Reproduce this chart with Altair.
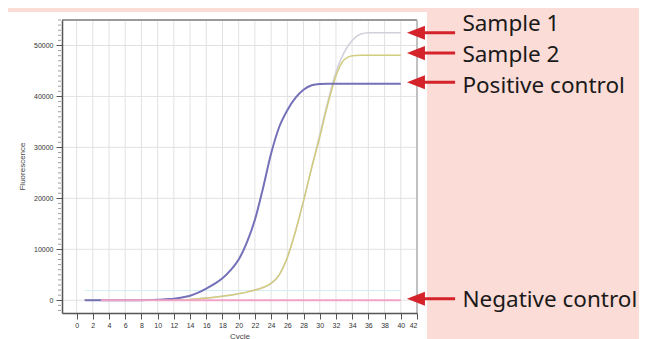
import altair as alt
import pandas as pd

# ---- data ----
cycles = list(range(1, 41))

sample1 = [0, 0, 0, 0, 0, 0, 0, 0, 0, 0,
           0, 0, 0, 150, 300, 450, 600, 800, 1000, 1300,
           1600, 2000, 2500, 3300, 5000, 8400, 13500, 19500, 26000, 32500,
           39000, 44800, 48600, 51000, 52200, 52500, 52500, 52500, 52500, 52500]

sample2 = [0, 0, 0, 0, 0, 0, 0, 0, 0, 0,
           0, 0, 0, 150, 300, 450, 600, 800, 1000, 1300,
           1600, 2000, 2500, 3300, 5000, 8400, 13500, 19500, 26000, 32000,
           38500, 44000, 47200, 48000, 48100, 48100, 48100, 48100, 48100, 48100]

positive = [0, 0, 0, 0, 0, 0, 0, 0, 50, 100,
            200, 300, 550, 900, 1500, 2300, 3200, 4300, 5900, 8000,
            11300, 15800, 22000, 28800, 34000, 37300, 39700, 41300, 42200, 42450,
            42500, 42500, 42500, 42500, 42500, 42500, 42500, 42500, 42500, 42500]

negative = [None, None, 0, 0, 0, 0, 0, 0, 0, 0,
            0, 0, 0, 0, 0, 0, 0, 0, 0, 0,
            0, 0, 0, 0, 0, 0, 0, 0, 0, 0,
            0, 0, 0, 0, 0, 0, 0, 0, 0, 0]

threshold_cycles = [1, 40]
threshold_values = [1900, 1900]

x_ticks = [0, 2, 4, 6, 8, 10, 12, 14, 16, 18, 20, 22, 24, 26, 28, 30, 32, 34, 36, 38, 40, 42]
y_ticks = [0, 10000, 20000, 30000, 40000, 50000]
y_minor = [v for v in range(-2000, 55001, 1000) if v % 10000 != 0]

labels = ["Sample 1", "Sample 2", "Positive control", "Negative control"]
label_y = [54300, 48130, 41950, 0]
arrow_y = [52500, 48500, 42800, 300]
arrow_tip_center = [41.87] * 4
arrow_tail = [46.7] * 4
label_x = [47.6] * 4

x_domain = [-1.8, 42]
y_domain = [-2500, 55000]

# ---- styling ----
RED = "#d4232b"
BG = "#fcdcd7"
x_scale = alt.Scale(domain=x_domain, nice=False, zero=False)
y_scale = alt.Scale(domain=y_domain, nice=False, zero=False)

x_axis = alt.Axis(values=x_ticks, title="Cycle", grid=False, labelFontSize=7,
                  labelFont="Liberation Sans", labelColor="#333", labelPadding=2,
                  labelAngle=0, labelOverlap=False, tickSize=6, tickColor="#555",
                  tickWidth=1, domainColor="#555", domainWidth=1.5, titleFontSize=8,
                  titleFont="Liberation Sans", titleFontWeight="normal",
                  titleColor="#444", titlePadding=4, zindex=1)
y_axis = alt.Axis(values=y_ticks, format="d", title="Fluorescence", grid=False,
                  labelFontSize=7, labelFont="Liberation Sans", labelColor="#333",
                  labelPadding=3, tickSize=6, tickColor="#555", tickWidth=1,
                  domainColor="#555", domainWidth=1.5, titleFontSize=8,
                  titleFont="Liberation Sans", titleFontWeight="normal",
                  titleColor="#444", titleX=-36, titleY=146, zindex=1)

def X(field):
    return alt.X(field, type="quantitative", scale=x_scale, axis=x_axis)

def Y(field):
    return alt.Y(field, type="quantitative", scale=y_scale, axis=y_axis)

panel = alt.Chart(alt.Data(values=[{}])).mark_rect(color="white").encode(
    x=alt.value(-55), x2=alt.value(365), y=alt.value(-8), y2=alt.value(319))

grid_x = alt.Chart(pd.DataFrame({"c": x_ticks})).mark_rule(
    color="#e2e2e2", strokeWidth=1).encode(x=X("c"))
grid_y = alt.Chart(pd.DataFrame({"v": y_ticks})).mark_rule(
    color="#e2e2e2", strokeWidth=1).encode(y=Y("v"))

thr = alt.Chart(pd.DataFrame({"c": threshold_cycles, "v": threshold_values})).mark_line(
    color="#d2edf4", strokeWidth=1).encode(x=X("c"), y=Y("v"))

def series(values, color, width):
    df = pd.DataFrame({"c": cycles, "v": values})
    return alt.Chart(df).mark_line(color=color, strokeWidth=width,
                                   interpolate="monotone").encode(x=X("c"), y=Y("v"))

s1 = series(sample1, "#cfd0da", 1.5)
s2 = series(sample2, "#d3cb7e", 1.5)
pc = series(positive, "#7471b9", 2)
nc = series(negative, "#f3a3c6", 2)

top_border = alt.Chart(pd.DataFrame({"v": [y_domain[1]]})).mark_rule(
    color="#9a9a9a", strokeWidth=2).encode(y=Y("v"))
right_border = alt.Chart(pd.DataFrame({"c": [x_domain[1]]})).mark_rule(
    color="#b0b0b0", strokeWidth=1.5).encode(x=X("c"))

minor = alt.Chart(pd.DataFrame({"v": y_minor})).mark_tick(
    orient="horizontal", size=3, thickness=1, color="#777").encode(
    x=alt.value(-2.5), y=Y("v"))

ann = pd.DataFrame({"label": labels, "ly": label_y, "ay": arrow_y,
                    "x1": arrow_tip_center, "x2": arrow_tail, "lx": label_x})

shafts = alt.Chart(ann).mark_rule(color=RED, strokeWidth=3).encode(
    x=X("x1"), x2="x2", y=Y("ay"))
heads = alt.Chart(ann).mark_point(shape="M-1,0L1,-0.78L1,0.78Z", size=324,
                                  filled=True, color=RED, opacity=1,
                                  strokeWidth=0).encode(x=X("x1"), y=Y("ay"))
texts = alt.Chart(ann).mark_text(align="left", baseline="middle", font="Noto Sans",
                                 fontSize=22.5, color="#1a1a1a").encode(
    x=X("lx"), y=Y("ly"), text="label")

chart = alt.layer(panel, grid_x, grid_y, thr, s1, s2, pc, nc, top_border,
                  right_border, minor, shafts, heads, texts).properties(
    width=355, height=293,
    padding={"left": 54, "top": 12, "right": 222, "bottom": 26},
    autosize=alt.AutoSizeParams(type="none"),
    background=BG,
).configure_view(stroke=None)

chart.save("out.html", embed_options={"renderer": "svg", "actions": False})
